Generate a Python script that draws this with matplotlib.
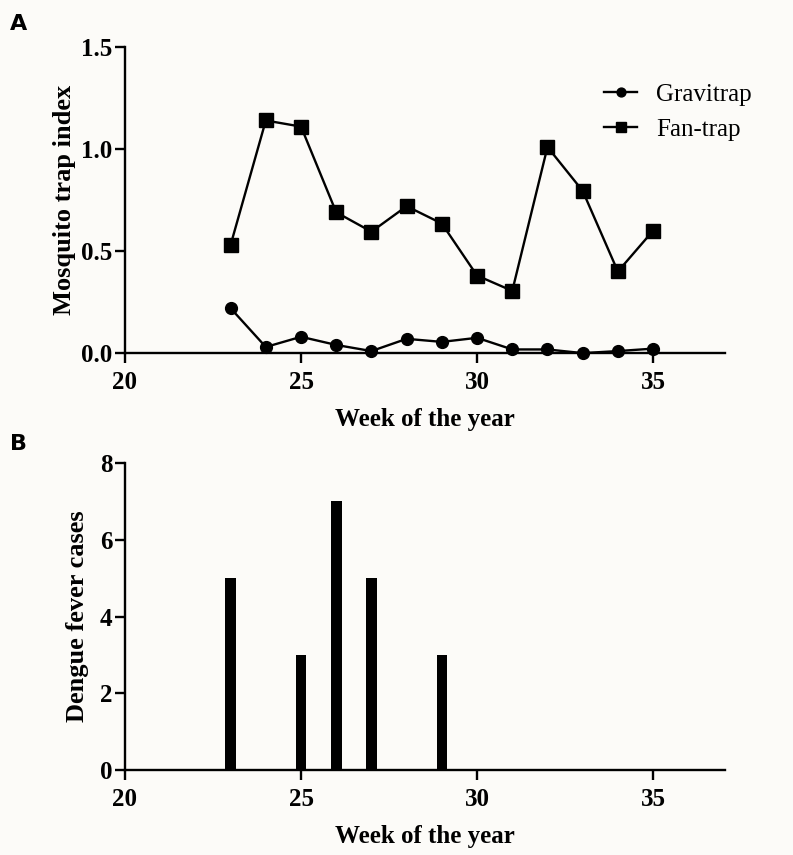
import numpy as np
import matplotlib.pyplot as plt

plt.rcParams['font.family'] = ['Liberation Serif', 'DejaVu Serif']

#%% data
weeks = [23, 24, 25, 26, 27, 28, 29, 30, 31, 32, 33, 34, 35]
gravitrap = [0.22, 0.03, 0.08, 0.04, 0.01, 0.07, 0.055, 0.075, 0.018, 0.018, 0.0, 0.01, 0.022]
fantrap = [0.53, 1.14, 1.11, 0.69, 0.595, 0.72, 0.635, 0.38, 0.305, 1.01, 0.795, 0.40, 0.60]

case_weeks = [23, 25, 26, 27, 29]
dengue_cases = [5, 3, 7, 5, 3]

bg = '#fcfbf8'
fig = plt.figure(figsize=(7.93, 8.55), dpi=100, facecolor=bg)

def style_axis(ax):
    ax.set_facecolor(bg)
    for s in ['top', 'right']:
        ax.spines[s].set_visible(False)
    for s in ['left', 'bottom']:
        ax.spines[s].set_linewidth(1.7)
    ax.tick_params(width=1.7, length=7, direction='out', labelsize=18)
    ax.tick_params(axis='x', pad=6)
    ax.tick_params(axis='y', pad=2)
    for lab in ax.get_xticklabels() + ax.get_yticklabels():
        lab.set_fontweight('bold')
    ax.set_xlim(20, 37.05)
    ax.set_xticks([20, 25, 30, 35])
    ax.set_xlabel('Week of the year', fontsize=18, fontweight='bold', labelpad=10)

#%% panel A
axA = fig.add_axes([0.1576, 0.587, 0.757, 0.358])
axA.plot(weeks, gravitrap, '-o', color='black', lw=1.7, ms=8.5, label='Gravitrap', clip_on=False)
axA.plot(weeks, fantrap, '-s', color='black', lw=1.7, ms=10, label='Fan-trap', clip_on=False)
axA.set_ylim(0, 1.5)
axA.set_yticks([0.0, 0.5, 1.0, 1.5])
axA.set_yticklabels(['0.0', '0.5', '1.0', '1.5'])
axA.set_ylabel('Mosquito trap index', fontsize=19, fontweight='bold', labelpad=4)
style_axis(axA)
axA.legend(loc='upper right', bbox_to_anchor=(1.082, 0.955), frameon=False, fontsize=18,
           handlelength=1.33, handletextpad=0.76, labelspacing=0.5, markerscale=0.75)

#%% panel B
axB = fig.add_axes([0.1576, 0.0994, 0.757, 0.359])
axB.bar(case_weeks, dengue_cases, width=0.3, color='black')
axB.set_ylim(0, 8)
axB.set_yticks([0, 2, 4, 6, 8])
axB.set_ylabel('Dengue fever cases', fontsize=19, fontweight='bold', labelpad=8)
style_axis(axB)

fig.text(0.013, 0.972, 'A', fontsize=16, fontweight='bold', family='DejaVu Sans', va='center')
fig.text(0.013, 0.4807, 'B', fontsize=16, fontweight='bold', family='DejaVu Sans', va='center')

fig.savefig('out.png', dpi=100, facecolor=bg)
